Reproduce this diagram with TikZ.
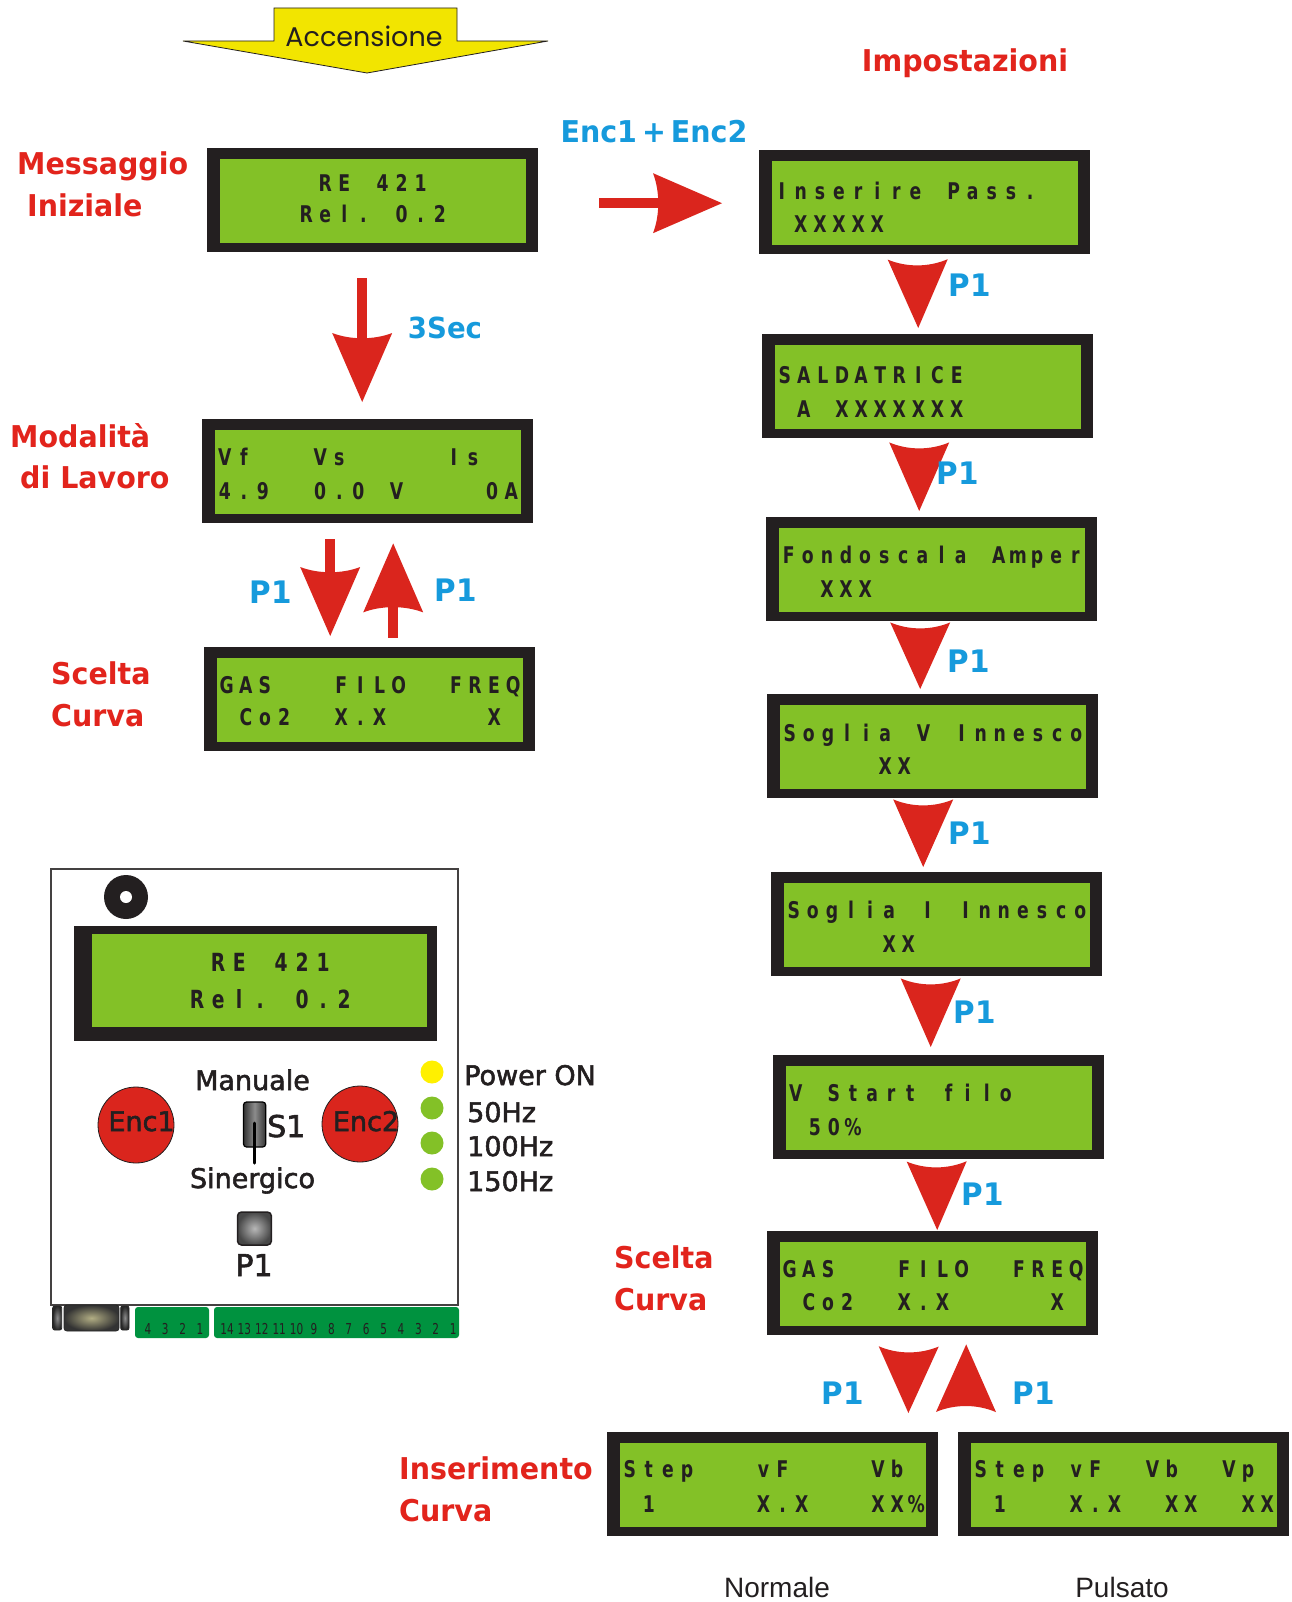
\documentclass[tikz,border=0pt]{standalone}
\usepackage{fontspec}
\usetikzlibrary{calc}

% type faces
\newfontfamily\lcdface{DejaVu Sans}[FakeStretch=0.75]
\newfontfamily\tagface{DejaVu Sans}[FakeStretch=0.95]
\newfontfamily\panelface{DejaVu Sans}[FakeBold=2]
\newfontfamily\tinyface{DejaVu Sans}[FakeStretch=0.7]
\newfontfamily\titleface{Poppins}
\newfontfamily\noteface{Liberation Sans}

% colours
\definecolor{lcdblack}{RGB}{35,31,32}
\definecolor{lcdgreen}{RGB}{131,193,39}
\definecolor{arrowred}{RGB}{218,37,29}
\definecolor{tagred}{RGB}{226,36,28}
\definecolor{tagblue}{RGB}{22,154,220}
\definecolor{bannerfill}{RGB}{242,229,0}
\definecolor{ledyellow}{RGB}{255,240,0}
\definecolor{termgreen}{RGB}{0,146,63}
\definecolor{inkdark}{RGB}{35,31,32}
\definecolor{plugcore}{RGB}{178,174,132}

% one LCD row: each character sits in a fixed-width cell, * is a blank cell
\newlength\lcdpitch
\setlength\lcdpitch{19.1pt}
\makeatletter
\def\lcd@end{\lcd@end}
\newcommand\lcdrow[1]{\lcd@row#1\lcd@end}
\def\lcd@row#1{\ifx\lcd@end#1\else\makebox[\lcdpitch]{\ifx*#1\else#1\fi}\expandafter\lcd@row\fi}
\makeatother

\tikzset{
  lcd/.style={fill=lcdblack, draw=none, minimum width=331pt, minimum height=104pt,
    inner sep=0pt, anchor=north west},
  lcdrowtext/.style={anchor=base west, inner sep=0pt, text=lcdblack,
    font=\lcdface\bfseries\fontsize{23}{23}\selectfont},
  redtag/.style={anchor=base west, inner sep=0pt, text=tagred,
    font=\tagface\bfseries\fontsize{30}{30}\selectfont},
  bluetag/.style={anchor=base, inner sep=0pt, text=tagblue,
    font=\tagface\bfseries\fontsize{31}{31}\selectfont},
  panellabel/.style={inner sep=0pt, text=inkdark,
    font=\panelface\fontsize{27}{27}\selectfont},
  led/.style={circle, minimum size=23pt, inner sep=0pt},
  knob/.style={circle, fill=arrowred, draw=inkdark, line width=0.8pt,
    minimum size=76pt, inner sep=0pt},
  termnum/.style={anchor=base, inner sep=0pt, text=inkdark,
    font=\tinyface\fontsize{15}{15}\selectfont},
  note/.style={anchor=base, inner sep=0pt, text=inkdark,
    font=\noteface\fontsize{28}{28}\selectfont},
}

% green screen and its two text rows inside a black LCD frame
\newcommand\lcdpanel[5]{%
  \fill[lcdgreen] ($(#1.north west)+(13,11)$) rectangle ($(#1.south east)+(-12,-9)$);
  \node[lcdrowtext] (#1-top) at ($(#1.north west)+(13,#4)$) {\lcdrow{#2}};
  \node[lcdrowtext] (#1-bot) at ($(#1.north west)+(13,#5)$) {\lcdrow{#3}};
}

% block arrow with shaft, from tail #1 to tip #2
\newcommand\blockarrow[2]{%
  \fill[arrowred] ($(#1)!5pt!90:(#2)$) -- ($(#2)!62pt!(#1)!5pt!90:(#2)$)
    -- ($(#2)!62pt!(#1)!5pt!-90:(#2)$) -- ($(#1)!5pt!-90:(#2)$) -- cycle;
  \fill[arrowred] ($(#2)!69pt!(#1)!30pt!90:(#2)$) -- (#2)
    -- ($(#2)!69pt!(#1)!30pt!-90:(#2)$)
    .. controls ($(#2)!62pt!(#1)!12pt!-90:(#2)$) and ($(#2)!62pt!(#1)!12pt!90:(#2)$)
    .. ($(#2)!69pt!(#1)!30pt!90:(#2)$) -- cycle;
}

% arrow head only, from base centre #1 to tip #2
\newcommand\arrowhead[2]{%
  \fill[arrowred] ($(#1)!30pt!90:(#2)$) -- (#2) -- ($(#1)!30pt!-90:(#2)$)
    .. controls ($(#1)!8pt!(#2)!11pt!-90:(#2)$) and ($(#1)!8pt!(#2)!11pt!90:(#2)$)
    .. ($(#1)!30pt!90:(#2)$) -- cycle;
}

\begin{document}
\begin{tikzpicture}[x=1pt,y=-1pt]
\useasboundingbox (0,0) rectangle (1291,1602);
\fill[white] (0,0) rectangle (1291,1602);

% ---- power-on banner
\draw[fill=bannerfill, draw=inkdark, line width=0.8pt, line join=miter]
  (183,41) -- (274,41) -- (274,8) -- (457,8) -- (457,41) -- (548,41) -- (367,73) -- cycle;
\node[anchor=base, inner sep=0pt, text=inkdark, font=\titleface\fontsize{27}{27}\selectfont]
  (acc) at (364,47) {Accensione};

% ---- left column
\node[lcd] (b1) at (207,148) {};
\lcdpanel{b1}{*****RE*421}{****Rel.*0.2}{44}{75}
\node[lcd] (b2) at (202,419) {};
\lcdpanel{b2}{Vf***Vs*****Is}{4.9**0.0*V****0A}{46}{80}
\node[lcd] (b3) at (204,647) {};
\lcdpanel{b3}{GAS***FILO**FREQ}{*Co2**X.X*****X}{46}{78}

\node[redtag] (msg1) at (17,175) {Messaggio};
\node[redtag] (msg2) at (27,217) {Iniziale};
\node[redtag] (mod1) at (10,447) {Modalità};
\node[redtag] (mod2) at (20,488) {di Lavoro};
\node[redtag] (sc1) at (51,684) {Scelta};
\node[redtag] (sc2) at (51,726) {Curva};

\path (b1.south) ++(-10.5,26) coordinate (secT);
\path (b2.north) ++(-5.5,-17) coordinate (secP);
\blockarrow{secT}{secP}
\node[bluetag, font=\tagface\bfseries\fontsize{29}{29}\selectfont] (sec) at (445,338) {3Sec};

\path (b2.south) ++(-37.5,16) coordinate (dnT);
\path (b3.north) ++(-39.5,-11) coordinate (dnP);
\blockarrow{dnT}{dnP}
\path (b3.north) ++(23.5,-9) coordinate (upT);
\path (b2.south) ++(25.5,20) coordinate (upP);
\blockarrow{upT}{upP}
\node[bluetag] (pl1) at (271,603) {P1};
\node[bluetag] (pl2) at (456,601) {P1};

% ---- settings column
\node[anchor=base, inner sep=0pt, text=tagred, font=\tagface\bfseries\fontsize{30}{30}\selectfont]
  (imp) at (965,72) {Impostazioni};

\node[lcd] (r1) at (759,150) {};
\lcdpanel{r1}{Inserire*Pass.}{*XXXXX}{50}{83}
\node[lcd] (r2) at (762,334) {};
\lcdpanel{r2}{SALDATRICE}{*A*XXXXXXX}{49}{83}
\node[lcd] (r3) at (766,517) {};
\lcdpanel{r3}{Fondoscala*Amper}{**XXX}{46}{80}
\node[lcd] (r4) at (767,694) {};
\lcdpanel{r4}{Soglia*V*Innesco}{*****XX}{47}{80}
\node[lcd] (r5) at (771,872) {};
\lcdpanel{r5}{Soglia*I*Innesco}{*****XX}{46}{80}
\node[lcd] (r6) at (773,1055) {};
\lcdpanel{r6}{V*Start*filo}{*50\%}{46}{80}
\node[lcd] (r7) at (767,1231) {};
\lcdpanel{r7}{GAS***FILO**FREQ}{*Co2**X.X*****X}{46}{79}

\path (b1.east) ++(61,3) coordinate (encT);
\path (r1.west) ++(-37,1) coordinate (encP);
\blockarrow{encT}{encP}
\node[bluetag, font=\tagface\bfseries\fontsize{30}{30}\selectfont] (encs) at (654,143) {Enc1\,+\,Enc2};

\path (r1.south) ++(-7,5) coordinate (h1a);
\path (r2.north) ++(-9.5,-6) coordinate (h1b);
\arrowhead{h1a}{h1b}
\path (r2.south) ++(-8.5,4) coordinate (h2a);
\path (r3.north) ++(-12.5,-6) coordinate (h2b);
\arrowhead{h2a}{h2b}
\path (r3.south) ++(-11.5,1) coordinate (h3a);
\path (r4.north) ++(-12.5,-5) coordinate (h3b);
\arrowhead{h3a}{h3b}
\path (r4.south) ++(-9.5,1) coordinate (h4a);
\path (r5.north) ++(-13.5,-5) coordinate (h4b);
\arrowhead{h4a}{h4b}
\path (r5.south) ++(-6,2) coordinate (h5a);
\path (r6.north) ++(-8,-8) coordinate (h5b);
\arrowhead{h5a}{h5b}
\path (r6.south) ++(-2,2) coordinate (h6a);
\path (r7.north) ++(4.5,-1) coordinate (h6b);
\arrowhead{h6a}{h6b}

\node[bluetag] (pr1) at (970,297) {P1};
\node[bluetag] (pr2) at (958,484) {P1};
\node[bluetag] (pr3) at (969,672) {P1};
\node[bluetag] (pr4) at (970,844) {P1};
\node[bluetag] (pr5) at (975,1023) {P1};
\node[bluetag] (pr6) at (983,1205) {P1};

\node[redtag] (sc3) at (614,1268) {Scelta};
\node[redtag] (sc4) at (614,1310) {Curva};

% ---- curve entry screens
\node[lcd] (n1) at (607,1432) {};
\lcdpanel{n1}{Step***vF****Vb}{*1*****X.X***XX\%}{45}{80}
\node[lcd] (pb) at (958,1432) {};
\lcdpanel{pb}{Step*vF**Vb**Vp}{*1***X.X**XX**XX}{45}{80}

\path (r7.south) ++(-24,11) coordinate (bda);
\path (n1.north east) ++(-30,-19) coordinate (bdb);
\arrowhead{bda}{bdb}
\path (pb.north west) ++(8,-20) coordinate (bua);
\path (r7.south) ++(33.5,9) coordinate (bub);
\arrowhead{bua}{bub}
\node[bluetag] (pb1) at (843,1404) {P1};
\node[bluetag] (pb2) at (1034,1404) {P1};

\node[redtag] (ins1) at (399,1479) {Inserimento};
\node[redtag] (ins2) at (399,1521) {Curva};

\node[note] (nor) at (777,1597) {Normale};
\node[note] (pul) at (1122,1597) {Pulsato};

% ---- front panel of the unit
\draw[line width=1.5pt, draw=inkdark!85, fill=white] (51,869) rectangle (458,1305);
\fill[inkdark] (126,897) circle (22pt);
\fill[white] (126,897) circle (6pt);

\node[fill=lcdblack, minimum width=363pt, minimum height=115pt, inner sep=0pt,
  anchor=north west] (dlcd) at (74,926) {};
\fill[lcdgreen] ($(dlcd.north west)+(18,8)$) rectangle ($(dlcd.south east)+(-10,-14)$);
\node[lcdrowtext, font=\lcdface\bfseries\fontsize{25}{25}\selectfont] (dlcd-top)
  at ($(dlcd.north west)+(112.5,45)$) {\setlength\lcdpitch{21pt}\lcdrow{*RE*421}};
\node[lcdrowtext, font=\lcdface\bfseries\fontsize{25}{25}\selectfont] (dlcd-bot)
  at ($(dlcd.north west)+(112.5,82)$) {\setlength\lcdpitch{21pt}\lcdrow{Rel.*0.2}};

\node[knob] (enc1) at (136,1125) {};
\node[knob] (enc2) at (360,1124) {};
\node[panellabel, anchor=base] (enc1t) at (141.5,1131) {Enc1};
\node[panellabel, anchor=base] (enc2t) at (366,1131) {Enc2};

\node[panellabel, anchor=base] (man) at (252.5,1090) {Manuale};
\shadedraw[rounded corners=3pt, draw=black, line width=1.2pt,
  left color=black!80, right color=black!80, middle color=black!45]
  (243.5,1102) rectangle (265.7,1147);
\draw[line width=3pt, line cap=round, black] (254,1123) -- (254,1163);
\node[panellabel, anchor=base west, font=\panelface\fontsize{30}{30}\selectfont] (s1) at (267,1137) {S1};
\node[panellabel, anchor=base] (sin) at (252.5,1188) {Sinergico};

\shadedraw[rounded corners=4pt, draw=inkdark, line width=1.5pt,
  inner color=black!28, outer color=black!72] (237.5,1212) rectangle (271.4,1245);
\node[panellabel, anchor=base, font=\panelface\fontsize{30}{30}\selectfont] (p1btn) at (254,1276) {P1};

\node[led, fill=ledyellow] (led0) at (432,1072) {};
\node[led, fill=lcdgreen] (led1) at (432,1108) {};
\node[led, fill=lcdgreen] (led2) at (432,1143) {};
\node[led, fill=lcdgreen] (led3) at (432,1179) {};
\node[panellabel, anchor=base west] (pw) at (464,1085) {Power ON};
\node[panellabel, anchor=base west] (f50) at (467,1122) {50Hz};
\node[panellabel, anchor=base west] (f100) at (467,1156) {100Hz};
\node[panellabel, anchor=base west] (f150) at (467,1191) {150Hz};

% connector and terminal strips under the panel
\shadedraw[rounded corners=2pt, draw=black!85, line width=0.8pt,
  inner color=black!45, outer color=black!85] (52.7,1306) rectangle (61.7,1330);
\shadedraw[rounded corners=3pt, draw=black!85, line width=0.8pt,
  inner color=plugcore, outer color=black!80] (64,1305) rectangle (119,1331);
\shadedraw[rounded corners=2pt, draw=black!85, line width=0.8pt,
  inner color=black!45, outer color=black!85] (120.7,1306) rectangle (129,1330);
\fill[termgreen, rounded corners=3pt] (135,1307) rectangle (209,1338);
\fill[termgreen, rounded corners=3pt] (214,1307) rectangle (459,1338);
\foreach \n [count=\i] in {4,3,2,1}
  \node[termnum] (ta\i) at ({148+(\i-1)*17.3},1334) {\n};
\foreach \n [count=\i] in {14,13,12,11,10,9,8,7,6,5,4,3,2,1}
  \node[termnum] (tb\i) at ({227+(\i-1)*17.4},1334) {\n};

\end{tikzpicture}
\end{document}
